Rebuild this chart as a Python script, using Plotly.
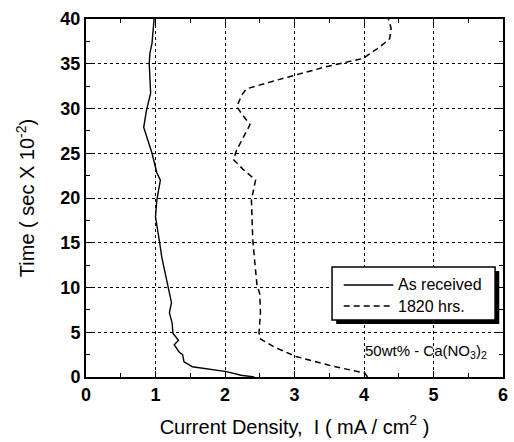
import plotly.graph_objects as go

# Time axis values (sec x 10^-2) and current density (mA/cm^2)
time_as_received = [0.0, 0.2, 0.6, 0.8, 1.15, 1.7, 2.5, 2.8, 3.6, 4.1, 4.9, 6.0, 7.2, 8.3,
                    10.0, 11.6, 13.4, 15.0, 17.2, 17.9, 19.8, 22.0, 22.8, 25.0, 27.9,
                    29.8, 31.7, 35.0, 36.2, 37.3, 40.0]
current_as_received = [2.42, 2.23, 2.02, 1.81, 1.53, 1.41, 1.39, 1.34, 1.27, 1.33, 1.25, 1.24,
                       1.20, 1.23, 1.18, 1.14, 1.09, 1.06, 1.02, 1.00, 1.02, 1.07, 1.02,
                       0.95, 0.83, 0.87, 0.93, 0.91, 0.92, 0.95, 0.98]

time_1820 = [0.0, 0.45, 1.2, 2.3, 3.3, 4.3, 5.0, 7.2, 9.3, 10.3, 12.7, 15.3, 19.8, 22.0,
             23.2, 24.3, 25.4, 26.7, 28.2, 29.3, 30.2, 31.5, 32.2, 33.2, 33.7, 34.7,
             35.6, 36.9, 37.8, 39.0, 40.0]
current_1820 = [4.05, 4.01, 3.55, 3.02, 2.72, 2.50, 2.49, 2.51, 2.50, 2.46, 2.43, 2.40, 2.38,
                2.44, 2.26, 2.12, 2.17, 2.26, 2.36, 2.25, 2.17, 2.24, 2.31, 2.76, 3.00,
                3.47, 3.99, 4.23, 4.37, 4.39, 4.35]

series_names = ["As received", "1820 hrs."]
x_ticks = [0, 1, 2, 3, 4, 5, 6]
y_ticks = [0, 5, 10, 15, 20, 25, 30, 35, 40]

FONT = "Liberation Sans, Arial, sans-serif"
SOLID = dict(color="black", width=1.4)
DASHED = dict(color="black", width=1.5, dash="6px,4px")

fig = go.Figure()
fig.add_trace(go.Scatter(x=current_as_received, y=time_as_received, mode="lines",
                         name=series_names[0], line=SOLID))
fig.add_trace(go.Scatter(x=current_1820, y=time_1820, mode="lines",
                         name=series_names[1], line=DASHED))

axis_common = dict(
    showline=True, linecolor="black", linewidth=2, mirror="ticks",
    ticks="inside", ticklen=6, tickwidth=1.2, tickcolor="black",
    showgrid=True, gridcolor="black", gridwidth=1, griddash="dot",
    zeroline=False,
    tickfont=dict(family=FONT, size=18, color="black", weight="bold"),
)

fig.update_xaxes(
    range=[0, 6], tickvals=x_ticks,
    minor=dict(dtick=0.5, ticks="inside", ticklen=4, tickcolor="black", showgrid=False),
    title=dict(text="Current Density,  I ( mA / cm<sup>2</sup> )",
               font=dict(family=FONT, size=20, color="black"), standoff=16),
    **axis_common,
)
fig.update_yaxes(
    range=[0, 40], tickvals=y_ticks,
    minor=dict(dtick=2.5, ticks="inside", ticklen=4, tickcolor="black", showgrid=False),
    title=dict(text="Time ( sec X 10<sup>-2</sup>)",
               font=dict(family=FONT, size=20, color="black"), standoff=20),
    **axis_common,
)

# Legend box with a drop shadow, line samples and labels
shapes = [
    dict(type="rect", xref="paper", yref="paper", x0=0.600, x1=0.991, y0=0.148, y1=0.296,
         fillcolor="black", line=dict(width=0), layer="above"),
    dict(type="rect", xref="paper", yref="paper", x0=0.590, x1=0.981, y0=0.159, y1=0.307,
         fillcolor="white", line=dict(color="black", width=1.5), layer="above"),
    dict(type="line", xref="paper", yref="paper", x0=0.618, x1=0.737, y0=0.257, y1=0.257,
         line=SOLID, layer="above"),
    dict(type="line", xref="paper", yref="paper", x0=0.618, x1=0.737, y0=0.198, y1=0.198,
         line=DASHED, layer="above"),
]
annotations = [
    dict(x=0.744, y=0.257, xref="paper", yref="paper", xanchor="left", yanchor="middle",
         text=series_names[0], showarrow=False, font=dict(family=FONT, size=16, color="black")),
    dict(x=0.744, y=0.198, xref="paper", yref="paper", xanchor="left", yanchor="middle",
         text=series_names[1], showarrow=False, font=dict(family=FONT, size=16, color="black")),
    dict(x=0.966, y=0.072, xref="paper", yref="paper", xanchor="right", yanchor="middle",
         text="50wt% - Ca(NO<sub>3</sub>)<sub>2</sub>", showarrow=False,
         font=dict(family=FONT, size=15, color="black")),
]

fig.update_layout(
    width=514, height=442,
    margin=dict(l=86, r=6, t=19, b=65),
    plot_bgcolor="white", paper_bgcolor="white",
    showlegend=False,
    shapes=shapes,
    annotations=annotations,
)

fig.write_html("out.html")
